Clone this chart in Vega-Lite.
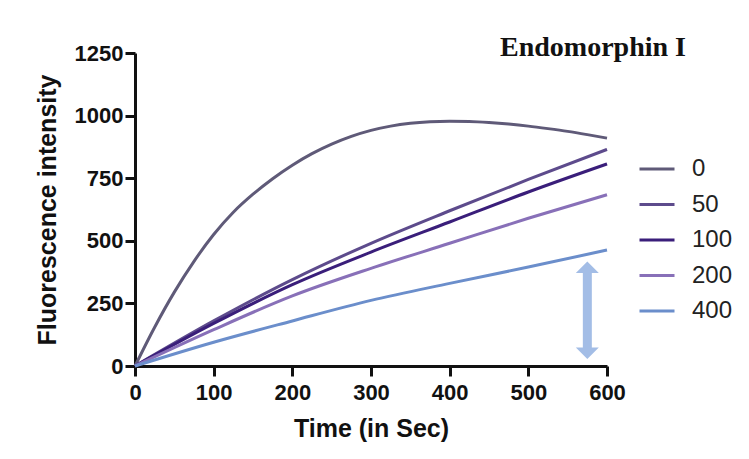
{
  "$schema": "https://vega.github.io/schema/vega-lite/v6.json",
  "autosize": {"type": "none"},
  "width": 472,
  "height": 313,
  "padding": {"left": 135, "top": 53, "right": 142, "bottom": 93},
  "background": "white",
  "title": {
    "text": "Endomorphin I",
    "anchor": "end",
    "frame": "group",
    "orient": "top",
    "offset": 0,
    "dx": 79,
    "dy": 42,
    "baseline": "alphabetic",
    "font": "Liberation Serif",
    "fontWeight": "bold",
    "fontSize": 28,
    "color": "#111111"
  },
  "datasets": {
    "curves": [
      {"t": 0, "v": 0, "conc": 0},
      {"t": 25, "v": 155, "conc": 0},
      {"t": 50, "v": 295, "conc": 0},
      {"t": 75, "v": 418, "conc": 0},
      {"t": 100, "v": 525, "conc": 0},
      {"t": 125, "v": 614, "conc": 0},
      {"t": 150, "v": 686, "conc": 0},
      {"t": 175, "v": 748, "conc": 0},
      {"t": 200, "v": 802, "conc": 0},
      {"t": 225, "v": 848, "conc": 0},
      {"t": 250, "v": 886, "conc": 0},
      {"t": 275, "v": 917, "conc": 0},
      {"t": 300, "v": 941, "conc": 0},
      {"t": 325, "v": 958, "conc": 0},
      {"t": 350, "v": 969, "conc": 0},
      {"t": 375, "v": 975, "conc": 0},
      {"t": 400, "v": 977, "conc": 0},
      {"t": 425, "v": 976, "conc": 0},
      {"t": 450, "v": 972, "conc": 0},
      {"t": 475, "v": 966, "conc": 0},
      {"t": 500, "v": 958, "conc": 0},
      {"t": 525, "v": 948, "conc": 0},
      {"t": 550, "v": 937, "conc": 0},
      {"t": 575, "v": 924, "conc": 0},
      {"t": 600, "v": 910, "conc": 0},
      {"t": 0, "v": 0, "conc": 50},
      {"t": 100, "v": 180, "conc": 50},
      {"t": 200, "v": 345, "conc": 50},
      {"t": 300, "v": 490, "conc": 50},
      {"t": 400, "v": 620, "conc": 50},
      {"t": 500, "v": 745, "conc": 50},
      {"t": 600, "v": 865, "conc": 50},
      {"t": 0, "v": 0, "conc": 100},
      {"t": 100, "v": 170, "conc": 100},
      {"t": 200, "v": 325, "conc": 100},
      {"t": 300, "v": 455, "conc": 100},
      {"t": 400, "v": 575, "conc": 100},
      {"t": 500, "v": 695, "conc": 100},
      {"t": 600, "v": 807, "conc": 100},
      {"t": 0, "v": 0, "conc": 200},
      {"t": 100, "v": 145, "conc": 200},
      {"t": 200, "v": 280, "conc": 200},
      {"t": 300, "v": 390, "conc": 200},
      {"t": 400, "v": 490, "conc": 200},
      {"t": 500, "v": 590, "conc": 200},
      {"t": 600, "v": 684, "conc": 200},
      {"t": 0, "v": 0, "conc": 400},
      {"t": 100, "v": 95, "conc": 400},
      {"t": 200, "v": 180, "conc": 400},
      {"t": 300, "v": 262, "conc": 400},
      {"t": 400, "v": 330, "conc": 400},
      {"t": 500, "v": 395, "conc": 400},
      {"t": 600, "v": 463, "conc": 400}
    ],
    "arrow": [
      {"t": 575, "lo": 60, "hi": 385}
    ],
    "heads": [
      {"t": 575, "v": 394, "dir": "up"},
      {"t": 575, "v": 51, "dir": "down"}
    ]
  },
  "layer": [
    {
      "data": {"name": "arrow"},
      "mark": {"type": "rule", "color": "#a3bde6", "strokeWidth": 9},
      "encoding": {
        "x": {"field": "t", "type": "quantitative"},
        "y": {"field": "lo", "type": "quantitative"},
        "y2": {"field": "hi"}
      }
    },
    {
      "data": {"name": "heads"},
      "mark": {"type": "point", "filled": true, "color": "#a3bde6", "opacity": 1, "size": 529},
      "encoding": {
        "x": {"field": "t", "type": "quantitative"},
        "y": {"field": "v", "type": "quantitative"},
        "shape": {
          "field": "dir",
          "type": "nominal",
          "scale": {"domain": ["up", "down"], "range": ["M-1,0.5L1,0.5L0,-0.5Z", "M-1,-0.5L1,-0.5L0,0.5Z"]},
          "legend": null
        }
      }
    },
    {
      "data": {"name": "curves"},
      "mark": {"type": "line", "interpolate": "monotone", "strokeWidth": 3},
      "encoding": {
        "x": {
          "field": "t",
          "type": "quantitative",
          "scale": {"domain": [0, 600], "nice": false},
          "axis": {
            "title": "Time (in Sec)",
            "values": [0, 100, 200, 300, 400, 500, 600],
            "format": "d",
            "labelFlush": false,
            "labelPadding": 6,
            "titlePadding": 13
          }
        },
        "y": {
          "field": "v",
          "type": "quantitative",
          "scale": {"domain": [0, 1250], "nice": false},
          "axis": {
            "title": "Fluorescence intensity",
            "values": [0, 250, 500, 750, 1000, 1250],
            "format": "d",
            "labelFlush": false,
            "labelPadding": 2,
            "titlePadding": 14
          }
        },
        "color": {
          "field": "conc",
          "type": "ordinal",
          "scale": {"domain": [0, 50, 100, 200, 400], "range": ["#5f5a78", "#5d4b8c", "#3a1e7a", "#8870b8", "#6b8ecb"]},
          "legend": {
            "title": null,
            "orient": "none",
            "legendX": 503,
            "legendY": 97,
            "symbolType": "stroke",
            "symbolSize": 1225,
            "symbolStrokeWidth": 3,
            "labelFontSize": 24,
            "labelFont": "Liberation Sans",
            "labelColor": "#222222",
            "labelOffset": 16,
            "rowPadding": 4.5,
            "padding": 0
          }
        }
      }
    }
  ],
  "config": {
    "view": {"stroke": null},
    "axis": {
      "grid": false,
      "domainColor": "#111111",
      "domainWidth": 3,
      "tickColor": "#111111",
      "tickWidth": 3,
      "tickSize": 10,
      "labelFont": "Liberation Sans",
      "labelFontWeight": "bold",
      "labelFontSize": 22,
      "labelColor": "#111111",
      "titleFont": "Liberation Sans",
      "titleFontWeight": "bold",
      "titleFontSize": 25,
      "titleColor": "#111111"
    }
  }
}
